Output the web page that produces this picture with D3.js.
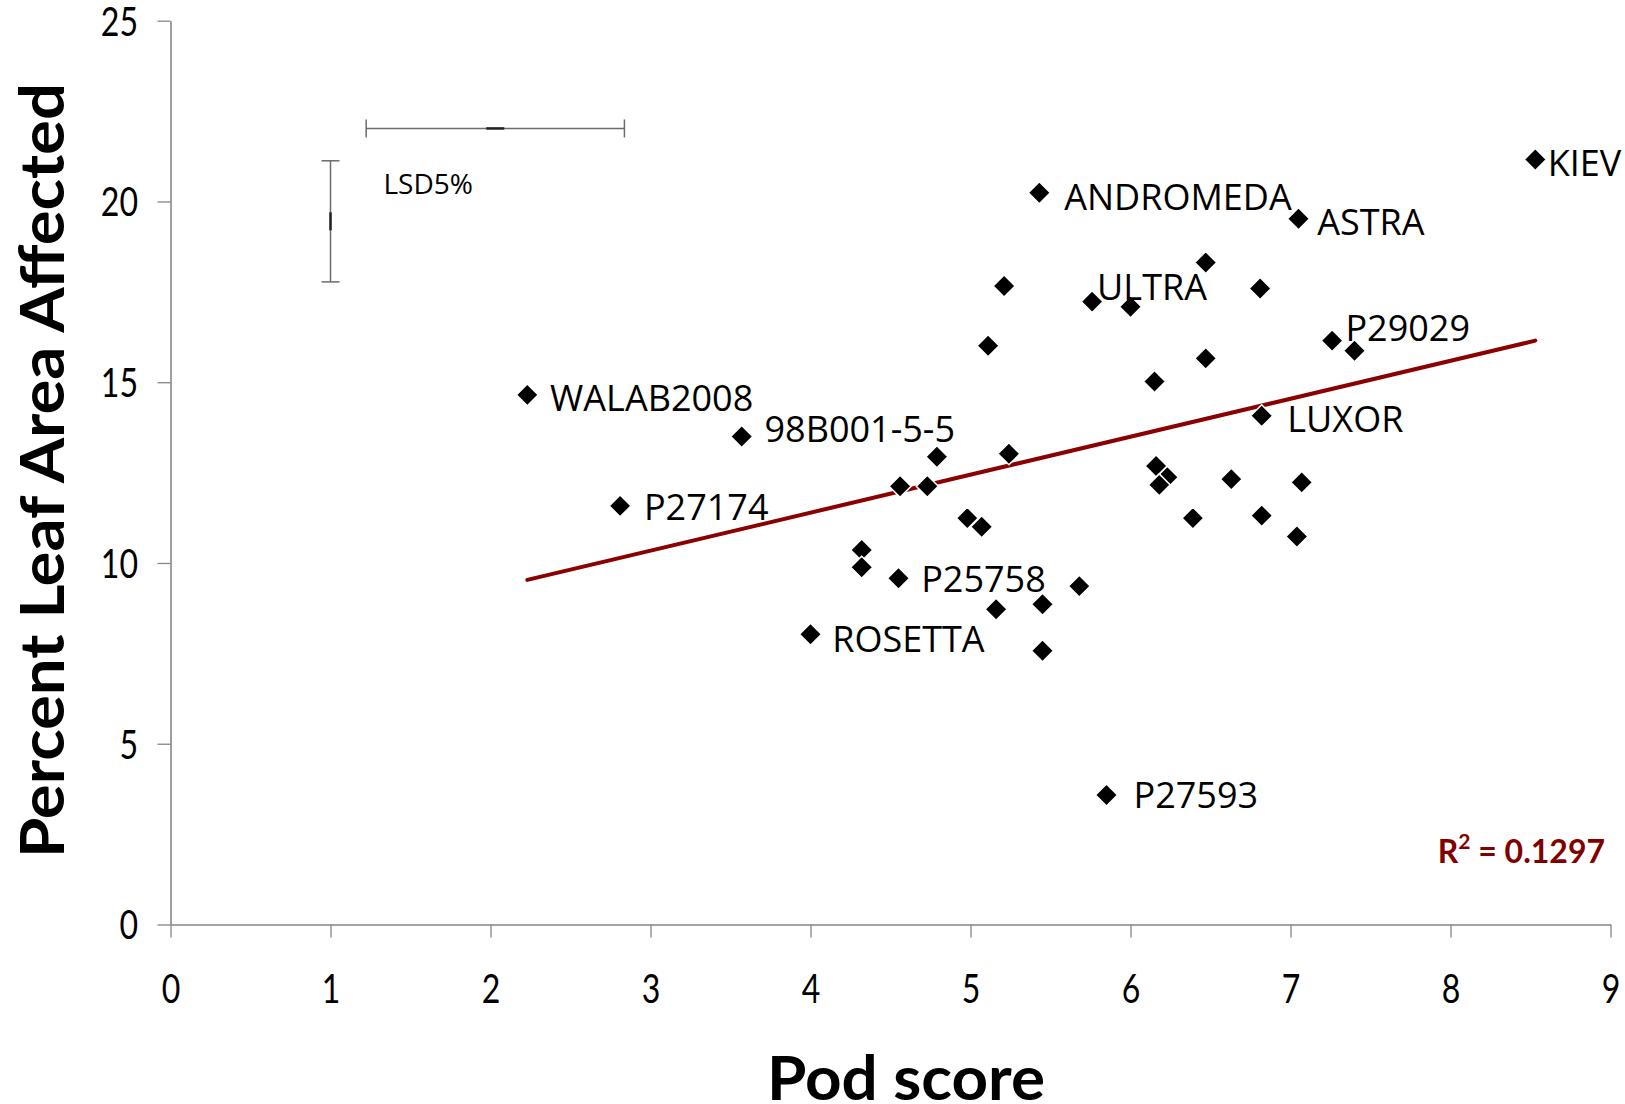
<!DOCTYPE html>
<html><head><meta charset="utf-8">
<script src="https://cdn.jsdelivr.net/npm/d3@7"></script>
<style>html,body{margin:0;padding:0;background:#fff;} svg{display:block}</style>
</head><body>
<svg id="chart" width="1625" height="1104"></svg>
<script>
// ---------------- DATA ----------------
const podScore = [2.23, 2.81, 3.57, 4.00, 4.32, 4.32, 4.55, 4.56, 4.73, 4.79,
                  4.98, 5.07, 5.11, 5.16, 5.21, 5.24, 5.43, 5.45, 5.45, 5.68,
                  5.76, 5.85, 6.00, 6.15, 6.16, 6.23, 6.18, 6.39, 6.47, 6.47,
                  6.63, 6.81, 6.82, 6.82, 7.04, 7.05, 7.07, 7.26, 7.40, 8.53];
const leafArea = [14.65, 11.58, 13.50, 8.03, 10.36, 9.88, 9.58, 12.12, 12.12, 12.94,
                  11.24, 11.00, 16.01, 8.72, 17.66, 13.02, 20.24, 8.86, 7.57, 9.36,
                  17.23, 3.58, 17.09, 15.02, 12.68, 12.37, 12.16, 11.24, 18.31, 15.66,
                  12.32, 17.59, 14.07, 11.31, 10.73, 19.52, 12.23, 16.15, 15.87, 21.16];
const pointNames = ["WALAB2008", "P27174", "98B001-5-5", "ROSETTA", "", "", "P25758", "", "", "",
                    "", "", "", "", "", "", "ANDROMEDA", "", "", "",
                    "ULTRA", "P27593", "", "", "", "", "", "", "", "",
                    "", "", "LUXOR", "", "", "ASTRA", "", "P29029", "", "KIEV"];
const xTickValues = [0, 1, 2, 3, 4, 5, 6, 7, 8, 9];
const yTickValues = [0, 5, 10, 15, 20, 25];
// LSD 5% error bars: centre and half-width
const lsdCentreX = [1.00, 2.03];
const lsdCentreY = [19.45, 22.02];
const lsdErrX = [0, 0.807];
const lsdErrY = [1.675, 0];
const lsdText = "LSD5%";
const r2Value = "0.1297";
const xTitle = "Pod score";
const yTitle = "Percent Leaf Area Affected";

// ---------------- LAYOUT ----------------
const labelLayout = {           // dx to text start, dy of text centre (px)
  "WALAB2008": [22.8, 3.1], "P27174": [23.8, 1.6], "98B001-5-5": [22.8, -7.3],
  "ROSETTA": [21.7, 5.4], "P25758": [22.7, 0.9], "ANDROMEDA": [24.9, 4.7],
  "ULTRA": [5, -14.7], "P27593": [27, 0], "LUXOR": [25.6, 3.5],
  "ASTRA": [18.7, 3.6], "P29029": [13.3, -12.2], "KIEV": [12.4, 3.6]
};
const svg = d3.select("#chart");
const x = d3.scaleLinear().domain([0, 9]).range([170.5, 1610.5]);
const y = d3.scaleLinear().domain([0, 25]).range([924.5, 20.7]);
const axisColor = "#868686";

// Axes
const gy = svg.append("g").attr("transform", `translate(${x(0)},0)`)
  .call(d3.axisLeft(y).tickValues(yTickValues).tickSize(13).tickSizeOuter(0).tickPadding(19.5));
const gx = svg.append("g").attr("transform", `translate(0,${y(0)})`)
  .call(d3.axisBottom(x).tickValues(xTickValues).tickSize(13).tickSizeOuter(0));
[gx, gy].forEach(g => {
  g.selectAll("path.domain").attr("stroke", axisColor).attr("stroke-width", 1.6);
  g.selectAll(".tick line").attr("stroke", axisColor).attr("stroke-width", 1.3);
  g.selectAll("text").attr("font-family", "Lato, sans-serif").attr("font-size", 40)
    .attr("fill", "#000")
    .attr("textLength", d => String(d).length * 18.6)
    .attr("lengthAdjust", "spacingAndGlyphs");
});
gy.selectAll("text").attr("dy", "0.36em");
gx.selectAll("text").attr("y", 0).attr("dy", 0).attr("transform", null)
  .attr("y", 1003 - y(0));

// Axis titles
svg.append("text").attr("x", 906).attr("y", 1100)
  .attr("text-anchor", "middle").attr("font-family", "Lato, sans-serif")
  .attr("font-weight", 700).attr("font-size", 62).attr("fill", "#000")
  .attr("textLength", 278).attr("lengthAdjust", "spacingAndGlyphs")
  .text(xTitle);
svg.append("text").attr("transform", "translate(64,470.5) rotate(-90)")
  .attr("text-anchor", "middle").attr("font-family", "Lato, sans-serif")
  .attr("font-weight", 700).attr("font-size", 61).attr("fill", "#000")
  .attr("textLength", 775).attr("lengthAdjust", "spacingAndGlyphs")
  .text(yTitle);

// LSD error bars
const lsdColor = "#6b6b6b";
const lsd = svg.append("g");
lsdCentreX.forEach((cx, i) => {
  const px = x(cx), py = y(lsdCentreY[i]);
  if (lsdErrY[i] > 0) {
    const y1 = y(lsdCentreY[i] + lsdErrY[i]), y2 = y(lsdCentreY[i] - lsdErrY[i]);
    lsd.append("line").attr("x1", px).attr("x2", px).attr("y1", y1).attr("y2", y2)
      .attr("stroke", lsdColor).attr("stroke-width", 1.5);
    [y1, y2].forEach(v => lsd.append("line").attr("x1", px - 9).attr("x2", px + 9)
      .attr("y1", v).attr("y2", v).attr("stroke", lsdColor).attr("stroke-width", 1.5));
    lsd.append("line").attr("x1", px).attr("x2", px).attr("y1", py - 9).attr("y2", py + 9)
      .attr("stroke", "#222").attr("stroke-width", 2.5);
  }
  if (lsdErrX[i] > 0) {
    const x1 = x(cx - lsdErrX[i]), x2 = x(cx + lsdErrX[i]);
    lsd.append("line").attr("x1", x1).attr("x2", x2).attr("y1", py).attr("y2", py)
      .attr("stroke", lsdColor).attr("stroke-width", 1.5);
    [x1, x2].forEach(v => lsd.append("line").attr("x1", v).attr("x2", v)
      .attr("y1", py - 9).attr("y2", py + 9).attr("stroke", lsdColor).attr("stroke-width", 1.5));
    lsd.append("line").attr("x1", px - 9).attr("x2", px + 9).attr("y1", py).attr("y2", py)
      .attr("stroke", "#222").attr("stroke-width", 2.5);
  }
});
svg.append("text").attr("x", 383.5).attr("y", 194)
  .attr("font-family", "'Open Sans', sans-serif").attr("font-size", 28).attr("fill", "#000")
  .text(lsdText);

// Trend line (least squares from data)
const mx = d3.mean(podScore), my = d3.mean(leafArea);
const slope = d3.sum(podScore, (v, i) => (v - mx) * (leafArea[i] - my)) /
              d3.sum(podScore, v => (v - mx) * (v - mx));
const icpt = my - slope * mx;
const xr = d3.extent(podScore);
svg.append("path")
  .attr("d", d3.line()(xr.map(v => [x(v), y(icpt + slope * v)])))
  .attr("stroke", "#8b0000").attr("stroke-width", 4).attr("fill", "none")
  .attr("stroke-linecap", "round");

// Points
const dia = 11;
svg.append("g").selectAll("path").data(podScore).join("path")
  .attr("d", (d, i) => {
    const px = x(d), py = y(leafArea[i]);
    return `M${px},${py - dia}L${px + dia},${py}L${px},${py + dia}L${px - dia},${py}Z`;
  })
  .attr("fill", "#000").attr("stroke", "#fff").attr("stroke-width", 1.5);

// Point labels
svg.append("g").selectAll("text").data(pointNames.map((n, i) => ({ n, i })).filter(d => d.n))
  .join("text")
  .attr("x", d => x(podScore[d.i]) + labelLayout[d.n][0])
  .attr("y", d => y(leafArea[d.i]) + labelLayout[d.n][1] + 12.85)
  .attr("font-family", "'Open Sans', sans-serif").attr("font-size", 36).attr("fill", "#000")
  .text(d => d.n);

// R² label
const r2 = svg.append("text").attr("x", 1605).attr("y", 863).attr("text-anchor", "end")
  .attr("font-family", "Lato, sans-serif").attr("font-weight", 700).attr("font-size", 32)
  .attr("fill", "#800000");
r2.append("tspan").text("R");
r2.append("tspan").attr("font-size", 21).attr("dy", -14).text("2");
r2.append("tspan").attr("dy", 14).text(" = " + r2Value);
</script>
</body></html>
